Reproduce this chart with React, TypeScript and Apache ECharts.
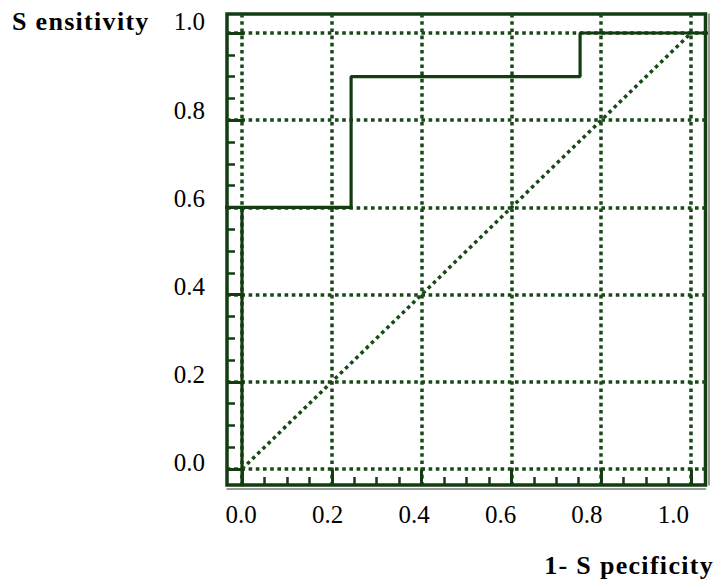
import React, { useEffect, useRef } from "react";
import * as echarts from "echarts";

// ---- data ----
const MAJOR_TICKS = [0, 0.2, 0.4, 0.6, 0.8, 1.0];
const TICK_LABELS = ["0.0", "0.2", "0.4", "0.6", "0.8", "1.0"];
const MINOR_TICKS = [0.05, 0.1, 0.15, 0.25, 0.3, 0.35, 0.45, 0.5, 0.55, 0.65, 0.7, 0.75, 0.85, 0.9, 0.95];

// ROC step curve (1 - specificity, sensitivity)
const ROC_FPR = [0, 0, 0.243, 0.243, 0.753, 0.753, 1.04];
const ROC_TPR = [-0.04, 0.6, 0.6, 0.9, 0.9, 1.0, 1.0];
// short lead-in segment at sensitivity 0.6
const LEAD_FPR = [-0.04, 0];
const LEAD_TPR = [0.6, 0.6];
// chance diagonal
const CHANCE_FPR = [0, 1];
const CHANCE_TPR = [0, 1];

const Y_TITLE = "S ensitivity";
const X_TITLE = "1- S pecificity";

// axis ranges
const X_MIN = -0.0334, X_MAX = 1.0323;
const Y_MIN = -0.0367, Y_MAX = 1.0436;
const XL_MIN = -0.0324, XL_MAX = 1.074;
const YL_MIN = -0.0511, YL_MAX = 1.0181;

const DARK = "#113d11";
const DOT = "#184a18";
const FONT = '"Liberation Serif", "Times New Roman", serif';

const pairs = (xs: number[], ys: number[]) => xs.map((x, i) => [x, ys[i]]);
const labelFor = (v: number) => {
  const i = MAJOR_TICKS.findIndex((t) => Math.abs(t - v) < 1e-6);
  return i >= 0 ? TICK_LABELS[i] : "";
};

export default function App() {
  const ref = useRef<HTMLDivElement>(null);
  useEffect(() => {
    if (!ref.current) return;
    const chart = echarts.init(ref.current, undefined, { renderer: "svg" });
    const dotted = { color: DOT, width: 3.5, type: [3.6, 3.6] as any };
    const none = { show: false };
    const baseX = (extra: any) => ({
      type: "value",
      min: X_MIN,
      max: X_MAX,
      position: "bottom",
      axisLine: { show: false, onZero: false },
      axisTick: none,
      axisLabel: none,
      splitLine: none,
      ...extra,
    });
    const baseY = (extra: any) => ({
      type: "value",
      min: Y_MIN,
      max: Y_MAX,
      position: "left",
      axisLine: { show: false, onZero: false },
      axisTick: none,
      axisLabel: none,
      splitLine: none,
      ...extra,
    });
    chart.setOption({
      animation: false,
      backgroundColor: "#ffffff",
      grid: {
        left: 227,
        top: 14,
        right: 10.5,
        bottom: 102,
        show: true,
        borderColor: DARK,
        borderWidth: 3.5,
        backgroundColor: "transparent",
      },
      xAxis: [
        baseX({
          axisTick: { show: true, inside: true, length: 15, customValues: MAJOR_TICKS, lineStyle: { color: DARK, width: 3 } },
          splitLine: { show: true, lineStyle: dotted },
        }),
        baseX({
          axisTick: { show: true, inside: true, length: 8, customValues: MINOR_TICKS, lineStyle: { color: DARK, width: 2.5 } },
        }),
        baseX({
          min: XL_MIN,
          max: XL_MAX,
          axisLabel: {
            show: true,
            customValues: MAJOR_TICKS,
            formatter: (v: number) => labelFor(v),
            fontFamily: FONT,
            fontSize: 25,
            color: "#000",
            margin: 17,
          },
        }),
        baseX({
          offset: 3.5,
          axisLine: { show: true, onZero: false, lineStyle: { color: "#7a7a7a", width: 1.5 } },
        }),
      ],
      yAxis: [
        baseY({
          axisTick: { show: true, inside: true, length: 17, customValues: MAJOR_TICKS, lineStyle: { color: DARK, width: 3 } },
          splitLine: { show: true, lineStyle: dotted },
        }),
        baseY({
          axisTick: { show: true, inside: true, length: 8, customValues: MINOR_TICKS, lineStyle: { color: DARK, width: 2.5 } },
        }),
        baseY({
          min: YL_MIN,
          max: YL_MAX,
          axisLabel: {
            show: true,
            customValues: MAJOR_TICKS,
            formatter: (v: number) => labelFor(v),
            fontFamily: FONT,
            fontSize: 25,
            color: "#000",
            margin: 22,
          },
        }),
        baseY({
          position: "right",
          offset: 3.5,
          axisLine: { show: true, onZero: false, lineStyle: { color: "#7a7a7a", width: 1.5 } },
        }),
      ],
      series: [
        {
          name: "Chance",
          type: "line",
          xAxisIndex: 0,
          yAxisIndex: 0,
          data: pairs(CHANCE_FPR, CHANCE_TPR),
          showSymbol: false,
          lineStyle: dotted,
          z: 3,
        },
        {
          name: "ROC lead",
          type: "line",
          xAxisIndex: 0,
          yAxisIndex: 0,
          data: pairs(LEAD_FPR, LEAD_TPR),
          showSymbol: false,
          lineStyle: { color: DARK, width: 3.2 },
          z: 4,
        },
        {
          name: "ROC",
          type: "line",
          xAxisIndex: 0,
          yAxisIndex: 0,
          data: pairs(ROC_FPR, ROC_TPR),
          showSymbol: false,
          clip: true,
          lineStyle: { color: DARK, width: 3.2 },
          z: 4,
        },
      ],
      graphic: [
        {
          type: "text",
          x: 12,
          y: 21,
          style: {
            text: Y_TITLE,
            font: `bold 26px ${FONT}`,
            fill: "#000",
            textAlign: "left",
            textVerticalAlign: "middle",
          },
        },
        {
          type: "text",
          x: 714,
          y: 565,
          style: {
            text: X_TITLE,
            font: `bold 26px ${FONT}`,
            fill: "#000",
            textAlign: "right",
            textVerticalAlign: "middle",
          },
        },
      ],
    });
    return () => chart.dispose();
  }, []);
  return (
    <>
      <style>{`#roc-chart text[style*="bold"] { letter-spacing: 1.3px; }`}</style>
      <div
        id="roc-chart"
        ref={ref}
        style={{ position: "fixed", left: 0, top: 0, width: 716, height: 587 }}
      />
    </>
  );
}
